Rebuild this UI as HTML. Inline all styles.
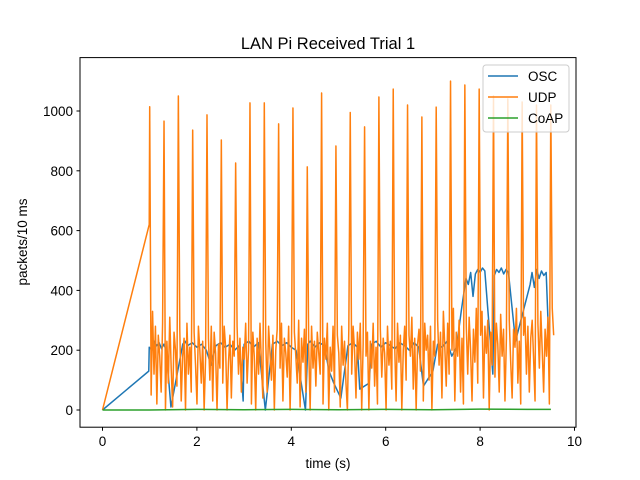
<!DOCTYPE html>
<html><head><meta charset="utf-8"><style>
body{margin:0;background:#fff;}
svg{display:block;font-family:"Liberation Sans","DejaVu Sans",sans-serif;}
</style></head><body>
<svg id="chart" width="640" height="480" viewBox="0 0 640 480">
<rect width="640" height="480" fill="#fff"/>
<text x="328" y="49" font-size="16.5" text-anchor="middle">LAN Pi Received Trial 1</text>
<defs><clipPath id="pc"><rect x="80" y="57.6" width="496" height="369.6"/></clipPath></defs>
<g id="series" clip-path="url(#pc)"></g>
<rect x="80" y="57.6" width="496" height="369.6" fill="none" stroke="#000" stroke-width="1"/>
<g id="xticks"></g>
<g id="yticks"></g>
<text x="328" y="468" font-size="13.5" text-anchor="middle">time (s)</text>
<text transform="translate(27,242) rotate(-90)" font-size="13.5" text-anchor="middle">packets/10 ms</text>
<g>
<rect x="483" y="65" width="86" height="67" rx="3" fill="#fff" fill-opacity="0.8" stroke="#ccc"/>
<g><line x1="488" y1="76" x2="518" y2="76" stroke="#1f77b4" stroke-width="1.5"/><text x="528" y="81" font-size="13.5">OSC</text></g>
<g><line x1="488" y1="97" x2="518" y2="97" stroke="#ff7f0e" stroke-width="1.5"/><text x="528" y="102" font-size="13.5">UDP</text></g>
<g><line x1="488" y1="118" x2="518" y2="118" stroke="#2ca02c" stroke-width="1.5"/><text x="528" y="123" font-size="13.5">CoAP</text></g>
</g>
</svg>
<script>
const xTicks=[0,2,4,6,8,10];
const yTicks=[0,200,400,600,800,1000];
const udpStart=[[0,0],[0.99,620]];
const udpPeaks=[1014,966,1050,936,987,903,826,1027,1027,957,1010,813,1060,883,995,947,1047,1073,1020,980,1013,1100,1087,1073,1050,1040,1030,1020,1020];
const udpNoise=[
[50,330,120,280,20,250,180,60,290],[0,230,90,310,140,10,260,200,80],[270,30,180,240,0,290,120,210,60],
[260,150,20,280,200,90,230,0,170],[240,100,280,30,260,190,0,220,140],[90,280,210,0,160,250,40,230,180],
[280,120,240,60,210,170,290,90,200],[20,260,180,0,240,120,290,150,40],[230,60,280,190,100,250,0,200,270],
[140,290,30,240,190,110,280,0,220],[260,180,90,300,10,240,160,270,60],[210,0,280,140,230,80,260,190,120],
[20,240,170,290,0,210,130,280,60],[250,190,10,280,150,230,90,0,270],[120,280,200,40,260,170,290,0,220],
[180,260,0,230,140,290,80,210,20],[270,110,240,190,0,280,150,230,70],[220,30,290,160,250,0,200,280,100],
[250,180,310,70,240,0,220,270,130],[30,290,200,250,100,280,0,230,180],[300,150,260,40,330,210,80,290,120],
[200,340,30,260,180,300,60,240,20],[280,120,310,200,30,270,160,340,90],[250,330,40,280,190,300,0,260,150],
[110,290,220,60,320,180,270,30,240],[300,160,40,270,210,340,90,230,20],[250,310,120,280,60,240,300,170,30],
[290,140,330,200,60,270,180,310,20],[340,250]];
const oscData=[[0,0],[0.98,130],[0.99,210],[1.05,200],[1.1,230],[1.15,215],[1.2,225],[1.25,205],[1.3,220],[1.35,200],[1.45,10],[1.7,220],[1.75,230],[1.8,215],[1.9,225],[2.0,210],[2.1,220],[2.2,200],[2.3,150],[2.4,215],[2.5,225],[2.6,210],[2.7,220],[2.8,200],[2.9,215],[2.98,30],[3.0,220],[3.1,230],[3.2,210],[3.3,225],[3.45,0],[3.6,220],[3.7,230],[3.8,215],[3.9,225],[4.0,210],[4.1,200],[4.3,0],[4.35,220],[4.4,230],[4.5,210],[4.6,225],[4.7,215],[4.8,130],[4.9,90],[5.05,40],[5.2,215],[5.3,225],[5.4,210],[5.45,70],[5.65,90],[5.7,220],[5.8,230],[5.9,210],[6.0,225],[6.1,215],[6.2,205],[6.3,225],[6.4,215],[6.5,200],[6.6,225],[6.7,210],[6.8,80],[7.0,130],[7.1,220],[7.2,210],[7.3,230],[7.4,180],[7.5,210],[7.6,330],[7.7,440],[7.75,420],[7.8,460],[7.85,380],[7.9,455],[7.95,470],[8.0,460],[8.05,475],[8.1,465],[8.27,120],[8.3,450],[8.35,470],[8.4,460],[8.45,475],[8.5,455],[8.55,470],[8.6,460],[8.75,230],[9.06,420],[9.1,460],[9.15,410],[9.2,470],[9.25,440],[9.3,465],[9.35,450],[9.4,460],[9.45,250]];
const coapData=[[0,0],[1,0],[2,2],[3,1],[4,2],[5,1],[6,2],[7,1],[8,3],[9,2],[9.5,2]];
const udpT0=1.0, udpPeriod=0.3035;

const NS="http://www.w3.org/2000/svg";
const X=t=>102.5+t*47.2;
const Y=v=>410-v*0.299;
function mk(tag,attrs,parent){const e=document.createElementNS(NS,tag);for(const k in attrs)e.setAttribute(k,attrs[k]);parent.appendChild(e);return e;}

const xg=document.getElementById('xticks');
xTicks.forEach(t=>{
  const l=mk('line',{x1:X(t),x2:X(t),y1:427.2,y2:430.7,stroke:'#000'},xg);
  
  
  const tx=mk('text',{x:X(t),y:446,'font-size':13.5,'text-anchor':'middle'},xg);
  tx.textContent=t;
  
  
});
const yg=document.getElementById('yticks');
yTicks.forEach(v=>{
  const l=mk('line',{x1:76.5,x2:80,y1:Y(v),y2:Y(v),stroke:'#000'},yg);
  
  
  const tx=mk('text',{x:73,y:Y(v)+5,'font-size':13.5,'text-anchor':'end'},yg);
  tx.textContent=v;
  
  
});

const udpPts=udpStart.slice();
const step=udpPeriod/10;
for(let k=0;k<udpNoise.length;k++){
  const base=udpT0+k*udpPeriod;
  if(k<udpPeaks.length) udpPts.push([base,udpPeaks[k]]);
  udpNoise[k].forEach((v,j)=>udpPts.push([base+(j+1)*step,v]));
}
const sg=document.getElementById('series');
function draw(data,color,name){
  const p=mk('path',{d:data.map((d,i)=>(i?'L':'M')+X(d[0]).toFixed(2)+' '+Y(d[1]).toFixed(2)).join(''),fill:'none',stroke:color,'stroke-width':1.5,'stroke-linejoin':'round'},sg);
  
  
}
draw(oscData,'#1f77b4','osc-line');
draw(udpPts,'#ff7f0e','udp-line');
draw(coapData,'#2ca02c','coap-line');
</script>
</body></html>
